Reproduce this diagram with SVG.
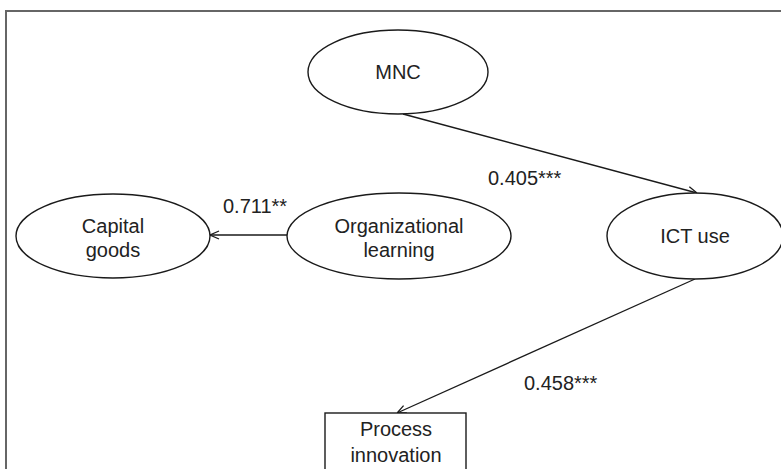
<svg xmlns="http://www.w3.org/2000/svg" width="781" height="469" viewBox="0 0 781 469">
<style>
.n{fill:#fff;stroke:#1a1a1a;stroke-width:1.4}
.t{font-family:"Liberation Sans",Arial,sans-serif;font-size:20px;fill:#222;text-anchor:middle}
.l{font-family:"Liberation Sans",Arial,sans-serif;font-size:20px;fill:#222}
.e{stroke:#1a1a1a;stroke-width:1.3;fill:none;marker-end:url(#ah)}
</style>
<defs>
<marker id="ah" viewBox="0 0 10 10" refX="10" refY="5" markerWidth="10" markerHeight="10" markerUnits="userSpaceOnUse" orient="auto">
<path d="M1,1 L10,5 L1,9" fill="none" stroke="#1a1a1a" stroke-width="1.3"/>
</marker>
</defs>
<rect width="781" height="469" fill="#fff"/>
<path d="M6,469 V11 H781" fill="none" stroke="#666" stroke-width="2"/>
<g id="connectors">
<line class="e" x1="403" y1="114" x2="697" y2="193"/>
<line class="e" x1="287" y1="235" x2="210" y2="235"/>
<line class="e" x1="695" y1="279" x2="397" y2="413"/>
<text class="l" x="488" y="185">0.405***</text>
<text class="l" x="223" y="213">0.711**</text>
<text class="l" x="524" y="390">0.458***</text>
</g>
<g id="mnc">
<ellipse class="n" cx="398" cy="72" rx="90" ry="42"/>
<text class="t" x="398" y="79">MNC</text>
</g>
<g id="capital-goods">
<ellipse class="n" cx="113" cy="236" rx="97" ry="42"/>
<text class="t" x="113" y="233">Capital</text>
<text class="t" x="113" y="257">goods</text>
</g>
<g id="organizational-learning">
<ellipse class="n" cx="399" cy="236" rx="112" ry="43"/>
<text class="t" x="399" y="233">Organizational</text>
<text class="t" x="399" y="257">learning</text>
</g>
<g id="ict-use">
<ellipse class="n" cx="695" cy="236" rx="88" ry="43"/>
<text class="t" x="695" y="243">ICT use</text>
</g>
<g id="process-innovation">
<rect class="n" x="325" y="413" width="141" height="70"/>
<text class="t" x="396" y="436">Process</text>
<text class="t" x="396" y="462">innovation</text>
</g>
</svg>
